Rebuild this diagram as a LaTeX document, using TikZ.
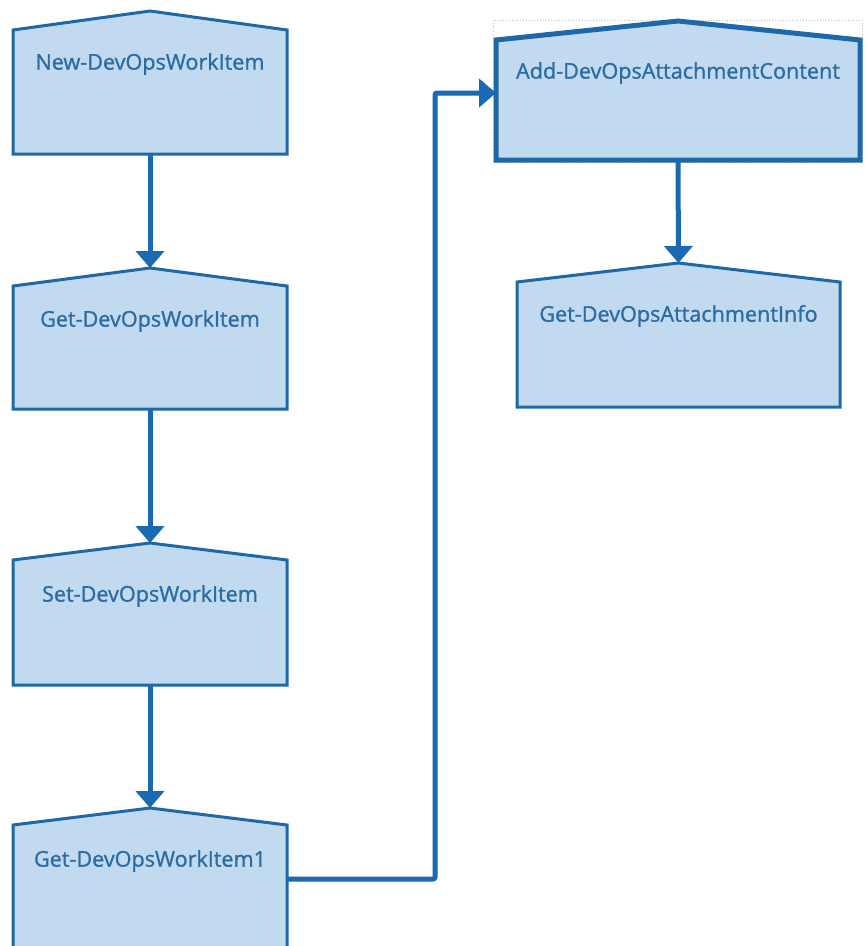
\documentclass[tikz,border=0pt]{standalone}
\usepackage{fontspec}
\setmainfont{Open Sans}
\newfontfamily\lblfont{Open Sans}[FakeBold=1.2]
\usetikzlibrary{arrows.meta}
\definecolor{boxfill}{RGB}{194,218,240}
\definecolor{boxline}{RGB}{31,104,168}
\definecolor{txt}{RGB}{44,108,164}
\definecolor{conncol}{RGB}{26,105,178}
\tikzset{
  housestyle/.style={fill=boxfill, draw=boxline, line width=3pt, line join=miter},
  bodybox/.style={inner sep=0pt, outer sep=0pt, draw=none},
  boxlabel/.style={text=txt, font=\lblfont\fontsize{21.6}{24}\selectfont, inner sep=0pt},
  conn/.style={draw=conncol, line width=5pt, -{Triangle[width=28pt,length=17pt]}},
}
% #1 name, #2 left, #3 right, #4 peak y, #5 shoulder y, #6 bottom y, #7 text y, #8 text, #9 extra style
\newcommand{\housenode}[9]{%
  \path[housestyle,#9] (#2,#5) -- ({(#2+#3)/2},#4) -- (#3,#5) -- (#3,#6) -- (#2,#6) -- cycle;
  \node[bodybox, anchor=north west, minimum width={(#3-#2)*1pt}, minimum height={(#6-#5)*1pt}] (#1) at (#2,#5) {};
  \coordinate (#1-top) at ({(#2+#3)/2},#4);
  \node[boxlabel] (#1-txt) at ({(#2+#3)/2},#7) {#8};
}
\begin{document}
\begin{tikzpicture}[x=1pt,y=-1pt]
\useasboundingbox[fill=white] (0,0) rectangle (868,946);
\begin{scope}
\clip (0,0) rectangle (868,946);
% selection frame
\draw[gray!50, dotted, line width=0.8pt] (493,20) rectangle (862,162);
\housenode{b1}{13}{287}{11}{30}{154}{64}{New-DevOpsWorkItem}{}
\housenode{b2}{13}{287}{268}{286}{409}{321}{Get-DevOpsWorkItem}{}
\housenode{b3}{13}{287}{543}{560}{685}{596}{Set-DevOpsWorkItem}{}
\housenode{b4}{13}{287}{808}{825}{960}{861}{Get-DevOpsWorkItem1}{}
\housenode{add}{496}{860}{21}{40}{160}{73}{Add-DevOpsAttachmentContent}{line width=5pt}
\housenode{info}{517}{840}{263}{282}{407}{316}{Get-DevOpsAttachmentInfo}{}
\draw[conn] (b1.south) -- (b2-top);
\draw[conn] (b2.south) -- (b3-top);
\draw[conn] (b3.south) -- (b4-top);
\draw[conn] (add.south) -- (info-top);
\draw[conn, rounded corners=2pt] ([yshift=13.5pt]b4.east) -| (435,93) -- ([yshift=7pt]add.west);
\end{scope}
\end{tikzpicture}
\end{document}
